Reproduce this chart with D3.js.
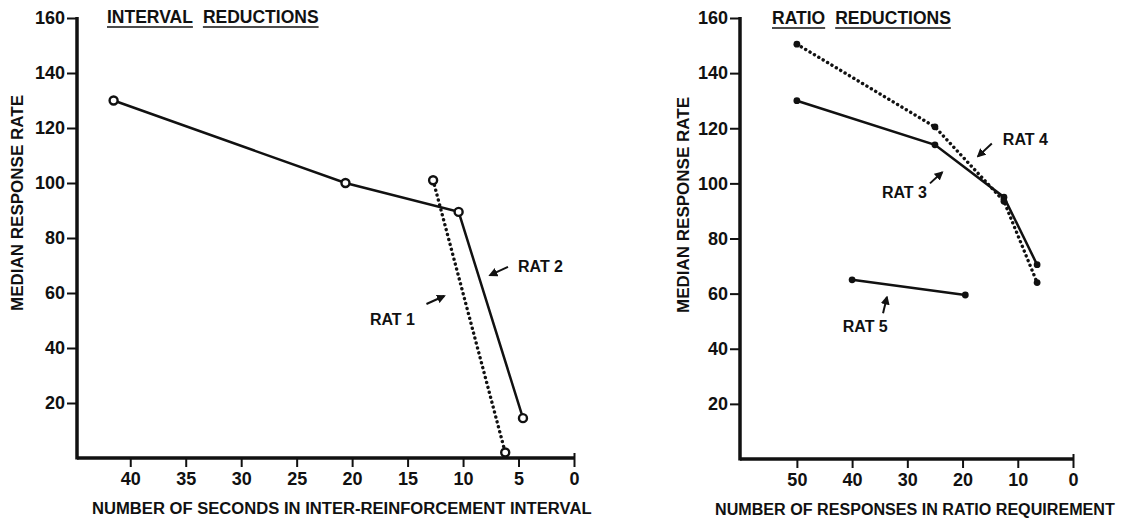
<!DOCTYPE html>
<html>
<head>
<meta charset="utf-8">
<script src="https://cdn.jsdelivr.net/npm/d3@7"></script>
<style>
  html, body { margin: 0; padding: 0; background: #fff; }
  svg { display: block; font-family: "Liberation Sans", Arial, sans-serif; font-weight: bold; }
  .tick text { font-family: "Liberation Sans", Arial, sans-serif; font-weight: bold; font-size: 18px; fill: #111; }
  .tick line { stroke: #111; stroke-width: 2; }
  .domain { stroke: #111; stroke-width: 3.5; }
</style>
</head>
<body>
<div id="chart"></div>
<script>
//Datos - panel izquierdo (intervalo)
const rat1X = [12.7, 6.2],
      rat1Y = [101, 2];
const rat2X = [41.5, 20.6, 10.4, 4.6],
      rat2Y = [130, 100, 89.5, 14.5];
//Datos - panel derecho (razón)
const rat3X = [50, 25, 12.5, 6.5],
      rat3Y = [130, 114, 95, 70.5];
const rat4X = [50, 25, 12.5, 6.5],
      rat4Y = [150.5, 120.5, 93.5, 64];
const rat5X = [40, 19.5],
      rat5Y = [65, 59.5];

const yTicks = [20, 40, 60, 80, 100, 120, 140, 160];
const xTicksLeft = [40, 35, 30, 25, 20, 15, 10, 5, 0];
const xTicksRight = [50, 40, 30, 20, 10, 0];

const INK = '#111';

let svg = d3.select('#chart')
    .append('svg')
    .attr('width', 1129)
    .attr('height', 521);

//Flecha
svg.append('defs').append('marker')
    .attr('id', 'arrow')
    .attr('viewBox', '0 0 10 10')
    .attr('refX', 8).attr('refY', 5)
    .attr('markerWidth', 4.5).attr('markerHeight', 4.5)
    .attr('orient', 'auto')
  .append('path')
    .attr('d', 'M0,0L10,5L0,10z')
    .attr('fill', INK);

function zip(xs, ys) { return xs.map(function(d, i) { return [d, ys[i]]; }); }

function drawPanel(cfg) {
    let x = d3.scaleLinear().domain(cfg.xDomain).range(cfg.xRange);
    let y = d3.scaleLinear().domain([0, 160]).range(cfg.yRange);
    let g = svg.append('g');

    //Eje X
    g.append('g')
        .attr('transform', 'translate(0,' + cfg.yRange[0] + ')')
        .call(d3.axisBottom(x).tickValues(cfg.xTicks).tickSize(9).tickSizeOuter(0).tickPadding(5))
        .call(function(a) {
            a.select('.domain').attr('d', 'M' + cfg.xRange[0] + ',0H' + cfg.xRange[1]);
            a.selectAll('.tick line').filter(function(d) { return d === 0; }).attr('y1', -5);
        });

    //Eje Y
    g.append('g')
        .attr('transform', 'translate(' + cfg.xRange[0] + ',0)')
        .call(d3.axisLeft(y).tickValues(yTicks).tickSize(10).tickSizeOuter(0).tickPadding(2))
        .call(function(a) {
            a.select('.domain').attr('d', 'M0,' + (cfg.yRange[1] - 1) + 'V' + (cfg.yRange[0] + 1.5));
        });

    //Título subrayado
    let tx = cfg.titleX;
    cfg.title.forEach(function(w) {
        let t = g.append('text')
            .attr('x', tx).attr('y', cfg.titleY)
            .attr('font-size', 17.5).attr('fill', INK)
            .text(w);
        let len = t.node().getComputedTextLength();
        g.append('line')
            .attr('x1', tx).attr('x2', tx + len)
            .attr('y1', cfg.titleY + 4).attr('y2', cfg.titleY + 4)
            .attr('stroke', INK).attr('stroke-width', 1.6);
        tx += len + 10;
    });

    //Etiqueta eje Y
    g.append('text')
        .attr('transform', 'translate(' + cfg.yLabelX + ',' + cfg.yLabelY + ') rotate(-90)')
        .attr('text-anchor', 'middle')
        .attr('font-size', 17).attr('fill', INK)
        .text('MEDIAN RESPONSE RATE');

    //Etiqueta eje X (ajustada al ancho del original)
    let xl = g.append('text')
        .attr('x', cfg.xLabelX).attr('y', cfg.xLabelY)
        .attr('font-size', 17).attr('fill', INK)
        .text(cfg.xLabel);
    let natural = xl.node().getComputedTextLength();
    xl.attr('font-size', Math.min(17, 17 * cfg.xLabelLen / natural));

    let line = d3.line().x(function(d) { return x(d[0]); }).y(function(d) { return y(d[1]); });

    cfg.series.forEach(function(s) {
        let pts = zip(s.x, s.y);
        g.append('path')
            .datum(pts)
            .attr('d', line)
            .attr('fill', 'none')
            .attr('stroke', INK)
            .attr('stroke-width', s.dotted ? 3.4 : 2.5)
            .attr('stroke-linecap', 'round')
            .attr('stroke-dasharray', s.dotted ? '0.1,5' : null);
        g.selectAll(null)
            .data(pts)
            .enter()
            .append('circle')
            .attr('cx', function(d) { return x(d[0]); })
            .attr('cy', function(d) { return y(d[1]); })
            .attr('r', cfg.openMarkers ? 4 : 3.4)
            .attr('fill', cfg.openMarkers ? '#fff' : INK)
            .attr('stroke', INK)
            .attr('stroke-width', cfg.openMarkers ? 2.4 : 0);
    });

    //Anotaciones
    cfg.notes.forEach(function(n) {
        g.append('text')
            .attr('x', x(n.tx)).attr('y', y(n.ty))
            .attr('font-size', 16).attr('fill', INK)
            .text(n.label);
        g.append('line')
            .attr('x1', x(n.a[0])).attr('y1', y(n.a[1]))
            .attr('x2', x(n.a[2])).attr('y2', y(n.a[3]))
            .attr('stroke', INK).attr('stroke-width', 2)
            .attr('marker-end', 'url(#arrow)');
    });
}

drawPanel({
    xDomain: [44.8, 0], xRange: [77, 574], yRange: [458, 18],
    xTicks: xTicksLeft,
    title: ['INTERVAL', 'REDUCTIONS'], titleX: 107, titleY: 23,
    yLabelX: 23, yLabelY: 203,
    xLabel: 'NUMBER OF SECONDS IN INTER-REINFORCEMENT INTERVAL', xLabelX: 92, xLabelY: 514, xLabelLen: 500,
    openMarkers: true,
    series: [
        { x: rat1X, y: rat1Y, dotted: true },
        { x: rat2X, y: rat2Y, dotted: false }
    ],
    notes: [
        { label: 'RAT 2', tx: 5.05, ty: 67.6, a: [5.95, 69.5, 7.57, 66.5] },
        { label: 'RAT 1', tx: 18.4, ty: 48.4, a: [13.3, 56, 11.7, 58.9] }
    ]
});

drawPanel({
    xDomain: [60.3, 0], xRange: [740, 1073], yRange: [459, 18],
    xTicks: xTicksRight,
    title: ['RATIO', 'REDUCTIONS'], titleX: 772, titleY: 24,
    yLabelX: 689, yLabelY: 205,
    xLabel: 'NUMBER OF RESPONSES IN RATIO REQUIREMENT', xLabelX: 715, xLabelY: 515, xLabelLen: 400,
    openMarkers: false,
    series: [
        { x: rat3X, y: rat3Y, dotted: false },
        { x: rat4X, y: rat4Y, dotted: true },
        { x: rat5X, y: rat5Y, dotted: false }
    ],
    notes: [
        { label: 'RAT 4', tx: 12.7, ty: 113.8, a: [14.7, 114.5, 17.2, 109.8] },
        { label: 'RAT 3', tx: 34.6, ty: 94.6, a: [25.9, 100, 23.7, 104] },
        { label: 'RAT 5', tx: 41.7, ty: 46, a: [34.4, 52.9, 33.7, 58.7] }
    ]
});
</script>
</body>
</html>
